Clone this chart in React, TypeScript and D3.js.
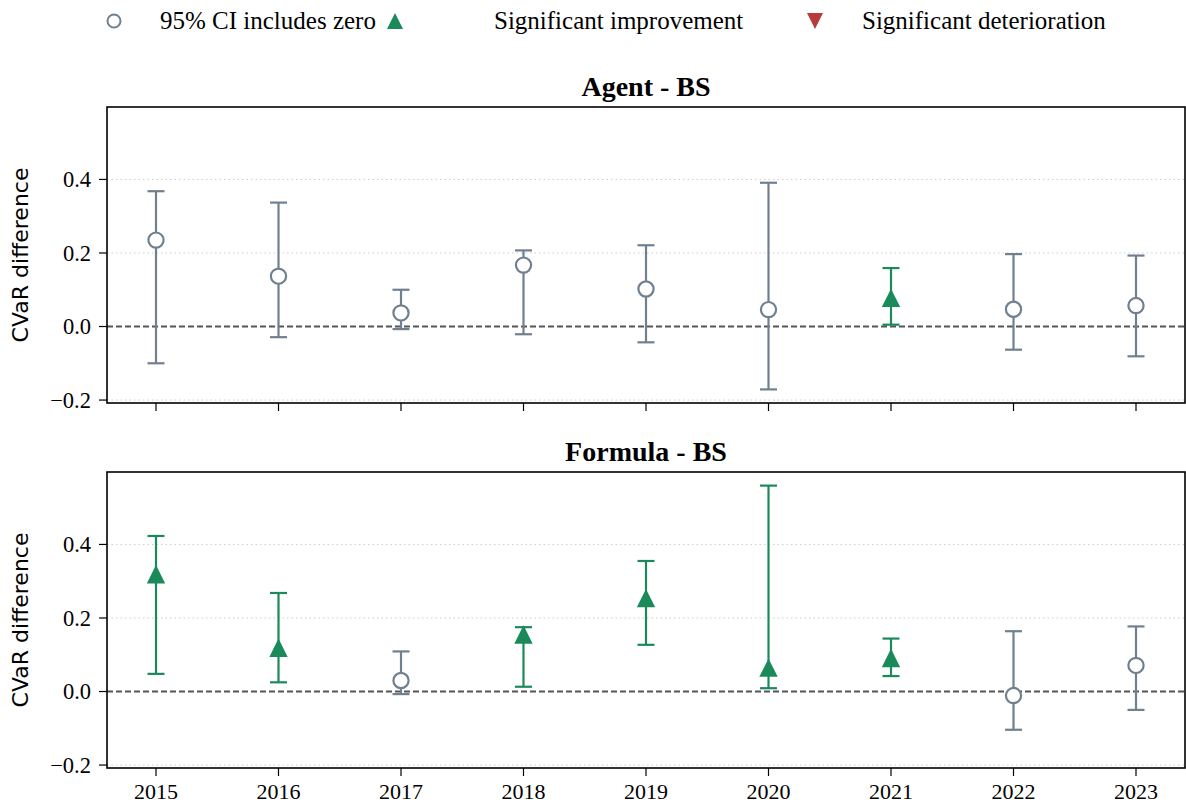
import React from "react";
import * as d3 from "d3";

const years = [2015, 2016, 2017, 2018, 2019, 2020, 2021, 2022, 2023];

// Agent - BS
const agentMean = [0.235, 0.137, 0.037, 0.167, 0.102, 0.046, 0.078, 0.047, 0.057];
const agentLow = [-0.1, -0.029, -0.007, -0.021, -0.043, -0.171, 0.005, -0.063, -0.081];
const agentHigh = [0.368, 0.337, 0.1, 0.207, 0.221, 0.391, 0.159, 0.197, 0.193];

// Formula - BS
const formulaMean = [0.319, 0.119, 0.03, 0.155, 0.254, 0.065, 0.091, -0.011, 0.071];
const formulaLow = [0.048, 0.025, -0.007, 0.013, 0.127, 0.009, 0.042, -0.104, -0.05];
const formulaHigh = [0.423, 0.268, 0.109, 0.175, 0.355, 0.56, 0.144, 0.164, 0.177];

const yTicks = [-0.2, 0, 0.2, 0.4];

const GRAY = "#708090";
const GREEN = "#1a8a5a";
const RED = "#b83a3a";
const SERIF = "'Liberation Serif', 'Times New Roman', serif";
const SANS = "'DejaVu Sans', sans-serif";

const left = 107;
const right = 1185;

const x = d3.scaleLinear().domain([2014.6, 2023.4]).range([left, right]);

const status = (lo: number, hi: number) => (lo > 0 ? "up" : hi < 0 ? "down" : "ns");

const triPath = (cx: number, cy: number, s: number, down = false) => {
  const d = down ? -1 : 1;
  return `M${cx},${cy - d * s}L${cx - s},${cy + d * s}L${cx + s},${cy + d * s}Z`;
};

function Panel({ title, top, mean, low, high, showLabels }: any) {
  const bottom = top + 296;
  const y = d3.scaleLinear().domain([-0.208, 0.597]).range([bottom, top]);
  return (
    <g>
      <text x={(left + right) / 2} y={top - 11} textAnchor="middle" style={{ fontFamily: SERIF }} fontWeight="bold" fontSize={28}>
        {title}
      </text>
      {yTicks.map((t) => (
        <line key={"g" + t} x1={left} x2={right} y1={y(t)} y2={y(t)} stroke="#cccccc" strokeWidth={1} strokeDasharray="1.5,3" />
      ))}
      <line x1={left} x2={right} y1={y(0)} y2={y(0)} stroke="#555" strokeWidth={1.8} strokeDasharray="6,3" />
      {years.map((yr, i) => {
        const s = status(low[i], high[i]);
        const c = s === "up" ? GREEN : s === "down" ? RED : GRAY;
        const cx = x(yr);
        return (
          <g key={yr}>
            <line x1={cx} x2={cx} y1={y(low[i])} y2={y(high[i])} stroke={c} strokeWidth={2.2} />
            <line x1={cx - 8.5} x2={cx + 8.5} y1={y(low[i])} y2={y(low[i])} stroke={c} strokeWidth={2.2} />
            <line x1={cx - 8.5} x2={cx + 8.5} y1={y(high[i])} y2={y(high[i])} stroke={c} strokeWidth={2.2} />
            {s === "ns" ? (
              <circle cx={cx} cy={y(mean[i])} r={7.6} fill="white" stroke={c} strokeWidth={2.2} />
            ) : (
              <path d={triPath(cx, y(mean[i]), 9.2, s === "down")} fill={c} />
            )}
          </g>
        );
      })}
      <rect x={left} y={top} width={right - left} height={bottom - top} fill="none" stroke="black" strokeWidth={1.6} />
      {yTicks.map((t) => (
        <g key={"t" + t}>
          <line x1={left - 8} x2={left} y1={y(t)} y2={y(t)} stroke="black" strokeWidth={1.2} />
          <text x={left - 16} y={y(t)} dy="0.35em" textAnchor="end" style={{ fontFamily: SERIF }} fontSize={22.5}>
            {t < 0 ? "\u2212" + Math.abs(t).toFixed(1) : t.toFixed(1)}
          </text>
        </g>
      ))}
      {years.map((yr) => (
        <g key={"x" + yr}>
          <line x1={x(yr)} x2={x(yr)} y1={bottom} y2={bottom + 8} stroke="black" strokeWidth={1.2} />
          {showLabels && (
            <text x={x(yr)} y={bottom + 31} textAnchor="middle" style={{ fontFamily: SERIF }} fontSize={22}>
              {yr}
            </text>
          )}
        </g>
      ))}
      <text
        transform={`translate(28,${(top + bottom) / 2}) rotate(-90)`}
        textAnchor="middle"
        style={{ fontFamily: SANS }}
        fontSize={22}
      >
        CVaR difference
      </text>
    </g>
  );
}

export default function App() {
  return (
    <svg width={1186} height={804} style={{ display: "block", position: "absolute", left: 0, top: 0, background: "white" }}>
      <rect width={1186} height={804} fill="white" />
      <g style={{ fontFamily: SERIF }} fontSize={25}>
        <circle cx={114} cy={21} r={6.5} fill="white" stroke={GRAY} strokeWidth={2} />
        <text x={160} y={29}>95% CI includes zero</text>
        <path d={triPath(395, 21, 8)} fill={GREEN} />
        <text x={494} y={29}>Significant improvement</text>
        <path d={triPath(815, 21, 8, true)} fill={RED} />
        <text x={862} y={29}>Significant deterioration</text>
      </g>
      <Panel title="Agent - BS" top={107} mean={agentMean} low={agentLow} high={agentHigh} showLabels={false} />
      <Panel title="Formula - BS" top={472} mean={formulaMean} low={formulaLow} high={formulaHigh} showLabels={true} />
    </svg>
  );
}
